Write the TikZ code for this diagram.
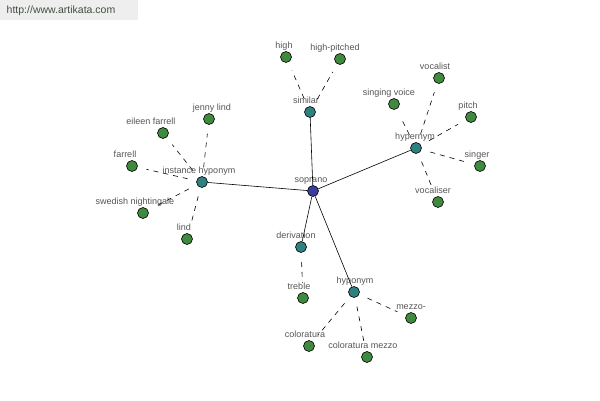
\documentclass[tikz,border=0pt]{standalone}
\usepackage{fontspec}
\setmainfont{Liberation Sans}
\definecolor{rootblue}{HTML}{3C3CA0}
\definecolor{relteal}{HTML}{2F8080}
\definecolor{leafgreen}{HTML}{3F8A3F}
\definecolor{textgray}{HTML}{555555}
\definecolor{wmback}{HTML}{EEEEEE}
\definecolor{wmtext}{HTML}{405040}

\begin{document}
\begin{tikzpicture}[x=1pt, y=-1pt,
  every label/.style={inner sep=0, text=textgray, font=\fontsize{9}{9}\selectfont,
    text height=7pt, text depth=2pt},
  label distance=0.5pt,
  dot/.style={circle, draw=black, line width=0.6pt, minimum size=11pt, inner sep=0},
  root/.style={dot, fill=rootblue},
  rel/.style={dot, fill=relteal},
  leaf/.style={dot, fill=leafgreen},
  link/.style={line width=0.6pt},
  dlink/.style={line width=0.6pt, dash pattern=on 5pt off 5pt, shorten <=9pt, shorten >=9pt}]
  \useasboundingbox (0,0) rectangle (600,400);

  % watermark
  \fill[wmback] (0,0) rectangle (138,20);
  \node[text=wmtext, font=\fontsize{10.5}{10.5}\selectfont, inner sep=0] (site) at (61,10.5) {http://www.artikata.com};

  % centre
  \node[root, label={[xshift=-2pt]above:soprano}] (soprano) at (313,191) {};

  % relations
  \node[rel, label={[xshift=-4pt]above:similar}] (similar) at (310,112) {};
  \node[rel, label={[xshift=-1pt]above:hypernym}] (hypernym) at (416,148) {};
  \node[rel, label={[xshift=-3pt]above:instance hyponym}] (insthypo) at (202,182) {};
  \node[rel, label={[xshift=-5pt]above:derivation}] (derivation) at (301,247) {};
  \node[rel, label={[xshift=1pt]above:hyponym}] (hyponym) at (354,292) {};

  % words
  \node[leaf, label={[xshift=-2pt]above:high}] (high) at (286,57) {};
  \node[leaf, label={[xshift=-5pt]above:high-pitched}] (highpitched) at (340,59) {};
  \node[leaf, label={[xshift=-4pt]above:vocalist}] (vocalist) at (439,78) {};
  \node[leaf, label={[xshift=-5pt]above:singing voice}] (singingvoice) at (394,104) {};
  \node[leaf, label={[xshift=-3pt]above:pitch}] (pitch) at (471,117) {};
  \node[leaf, label={[xshift=-3pt]above:singer}] (singer) at (480,166) {};
  \node[leaf, label={[xshift=-5pt]above:vocaliser}] (vocaliser) at (438,202) {};
  \node[leaf, label={[xshift=3pt]above:jenny lind}] (jennylind) at (209,119) {};
  \node[leaf, label={[xshift=-12pt]above:eileen farrell}] (eileenfarrell) at (163,133) {};
  \node[leaf, label={[xshift=-7pt]above:farrell}] (farrell) at (132,166) {};
  \node[leaf, label={[xshift=-8pt]above:swedish nightingale}] (nightingale) at (143,213) {};
  \node[leaf, label={[xshift=-3pt]above:lind}] (lind) at (187,239) {};
  \node[leaf, label={[xshift=-4pt]above:treble}] (treble) at (303,298) {};
  \node[leaf, label={[xshift=0pt]above:mezzo-}] (mezzo) at (411,318) {};
  \node[leaf, label={[xshift=-4pt]above:coloratura}] (coloratura) at (309,346) {};
  \node[leaf, label={[xshift=-4pt]above:coloratura mezzo}] (colmezzo) at (367,357) {};

  % solid links
  \draw[link] (soprano) -- (similar);
  \draw[link] (soprano) -- (hypernym);
  \draw[link] (soprano) -- (insthypo);
  \draw[link] (soprano) -- (derivation);
  \draw[link] (soprano) -- (hyponym);

  % dashed links
  \draw[dlink] (similar) -- (high);
  \draw[dlink] (similar) -- (highpitched);
  \draw[dlink] (hypernym) -- (vocalist);
  \draw[dlink] (hypernym) -- (singingvoice);
  \draw[dlink] (hypernym) -- (pitch);
  \draw[dlink] (hypernym) -- (singer);
  \draw[dlink] (hypernym) -- (vocaliser);
  \draw[dlink] (insthypo) -- (jennylind);
  \draw[dlink] (insthypo) -- (eileenfarrell);
  \draw[dlink] (insthypo) -- (farrell);
  \draw[dlink] (insthypo) -- (nightingale);
  \draw[dlink] (insthypo) -- (lind);
  \draw[dlink] (derivation) -- (treble);
  \draw[dlink] (hyponym) -- (mezzo);
  \draw[dlink] (hyponym) -- (coloratura);
  \draw[dlink] (hyponym) -- (colmezzo);
\end{tikzpicture}
\end{document}
